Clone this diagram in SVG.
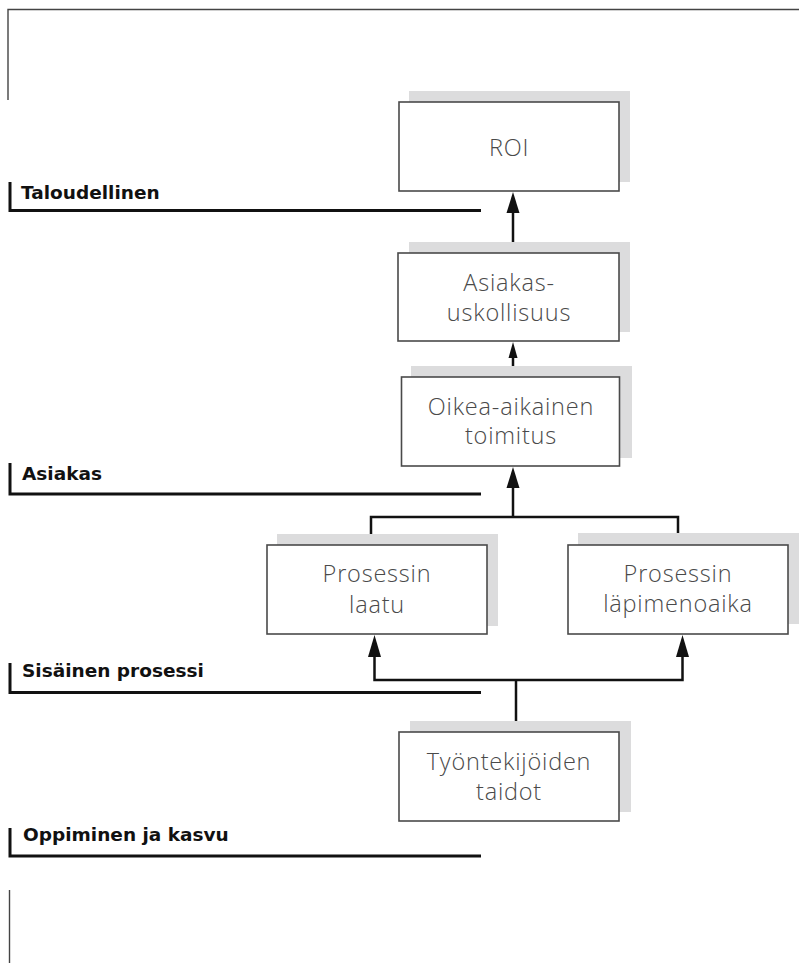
<svg xmlns="http://www.w3.org/2000/svg" width="799" height="963" viewBox="0 0 799 963">
<style>
.shadow{fill:#dcdcdd;stroke:none}
.box{fill:#fff;stroke:#4a4a4a;stroke-width:1.6}
.t{font-family:"Open Sans","Liberation Sans",sans-serif;font-weight:300;font-size:23.5px;letter-spacing:0.8px;fill:#4a4a4a;text-anchor:middle}
.lbl{font-family:"DejaVu Sans","Liberation Sans",sans-serif;font-weight:bold;font-size:18.5px;fill:#111}
.band{fill:none;stroke:#111;stroke-width:3}
.frame{fill:none;stroke:#444;stroke-width:1.4}
.conn{fill:none;stroke:#111;stroke-width:2.5}
.head{fill:#111;stroke:none}
</style>
<rect width="799" height="963" fill="#fff"/>
<g id="frame">
<path class="frame" d="M8 100 V9.5 H799"/>
<path class="frame" d="M9.5 890 V963"/>
</g>
<g id="band-taloudellinen">
<path class="band" d="M10 182 V210.5 H481"/>
<text class="lbl" x="21" y="199">Taloudellinen</text>
</g>
<g id="band-asiakas">
<path class="band" d="M10 463 V494 H481"/>
<text class="lbl" x="22" y="480">Asiakas</text>
</g>
<g id="band-sisainen">
<path class="band" d="M10 663 V692.5 H481"/>
<text class="lbl" x="22" y="677">Sisäinen prosessi</text>
</g>
<g id="band-oppiminen">
<path class="band" d="M10 828 V856 H481"/>
<text class="lbl" x="23" y="841">Oppiminen ja kasvu</text>
</g>
<g id="connectors">
<path class="conn" d="M513 253 V210"/>
<path class="head" d="M513 192 L506.5 213 L519.5 213 Z"/>
<path class="conn" d="M513 377 V355"/>
<path class="head" d="M513 342 L508.5 358 L517.5 358 Z"/>
<path class="conn" d="M371 545 V517 H678 V545"/>
<path class="conn" d="M513 517 V485"/>
<path class="head" d="M513 467 L506.5 488 L519.5 488 Z"/>
<path class="conn" d="M516 732 V680"/>
<path class="conn" d="M374.5 655 V680 H682.5 V655"/>
<path class="head" d="M374.5 635 L368 657 L381 657 Z"/>
<path class="head" d="M682.5 635 L676 657 L689 657 Z"/>
</g>
<g id="node-roi">
<rect class="shadow" x="409" y="91" width="221" height="91"/>
<rect class="box" x="399" y="102" width="220" height="89"/>
<text class="t" x="509" y="156">ROI</text>
</g>
<g id="node-asiakasuskollisuus">
<rect class="shadow" x="409" y="242" width="221" height="90"/>
<rect class="box" x="398" y="253" width="221" height="88"/>
<text class="t" x="509" y="291">Asiakas-</text>
<text class="t" x="509" y="321">uskollisuus</text>
</g>
<g id="node-oikea">
<rect class="shadow" x="411" y="366" width="221" height="92"/>
<rect class="box" x="401.5" y="377" width="218" height="89"/>
<text class="t" x="511" y="415">Oikea-aikainen</text>
<text class="t" x="511" y="444">toimitus</text>
</g>
<g id="node-laatu">
<rect class="shadow" x="277" y="534" width="221" height="92"/>
<rect class="box" x="267" y="545" width="220" height="89"/>
<text class="t" x="377" y="582">Prosessin</text>
<text class="t" x="377" y="613">laatu</text>
</g>
<g id="node-lapimeno">
<rect class="shadow" x="578" y="533" width="221" height="91"/>
<rect class="box" x="568" y="545" width="220" height="89"/>
<text class="t" x="678" y="582">Prosessin</text>
<text class="t" x="678" y="612">läpimenoaika</text>
</g>
<g id="node-tyontekijat">
<rect class="shadow" x="410" y="721" width="221" height="91"/>
<rect class="box" x="399" y="732" width="220" height="89"/>
<text class="t" x="509" y="770">Työntekijöiden</text>
<text class="t" x="509" y="800">taidot</text>
</g>
</svg>
